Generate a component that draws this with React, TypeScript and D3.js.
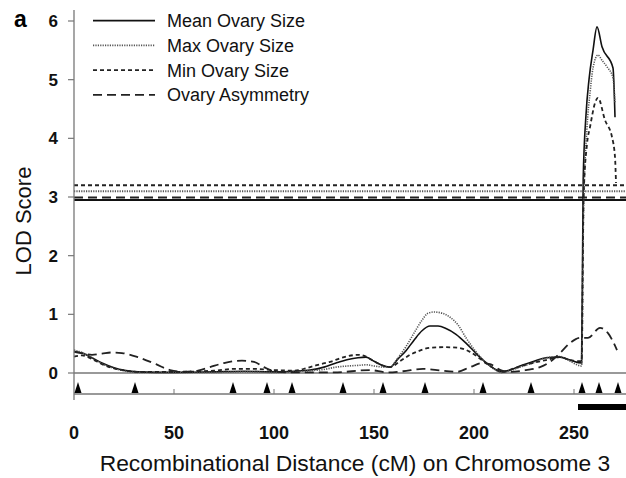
import React from "react";
import * as d3 from "d3";

// ---- data (cM, LOD) ----
const meanOvary: [number, number][] = [
  [0, 0.37], [4, 0.34], [9, 0.26], [14, 0.17], [20, 0.09], [26, 0.04], [32, 0.02], [50, 0.01],
  [70, 0.02], [85, 0.03], [100, 0.02], [110, 0.03], [118, 0.05], [125, 0.1], [131, 0.17],
  [137, 0.23], [142, 0.26], [146, 0.27], [150, 0.2], [155, 0.12], [158, 0.1], [162, 0.24],
  [166, 0.38], [170, 0.56], [174, 0.72], [178, 0.8], [182, 0.8], [186, 0.76], [191, 0.66],
  [196, 0.51], [202, 0.3], [208, 0.12], [214, 0.02], [218, 0.05], [223, 0.12], [230, 0.2],
  [236, 0.26], [243, 0.27], [248, 0.22], [253.8, 0.17], [254.6, 3.3], [256, 4.4], [257.5, 5.0],
  [259.5, 5.5], [261.5, 5.9], [264, 5.56], [269.5, 5.2], [270.5, 4.36],
];
const maxOvary: [number, number][] = [
  [0, 0.39], [4, 0.35], [9, 0.26], [14, 0.16], [20, 0.08], [26, 0.03], [32, 0.01], [50, 0.01],
  [70, 0.01], [85, 0.02], [100, 0.01], [110, 0.02], [118, 0.04], [125, 0.06], [131, 0.1],
  [137, 0.12], [142, 0.13], [146, 0.14], [150, 0.12], [155, 0.1], [158, 0.1], [162, 0.26],
  [166, 0.45], [170, 0.68], [174, 0.9], [177, 1.02], [180, 1.04], [184, 1.02], [188, 0.95],
  [192, 0.82], [196, 0.6], [202, 0.32], [208, 0.12], [214, 0.01], [218, 0.04], [223, 0.1],
  [230, 0.18], [236, 0.26], [243, 0.28], [248, 0.2], [253.8, 0.12], [254.8, 2.8], [256.5, 4.19],
  [258, 4.77], [259.5, 5.2], [262, 5.42], [264, 5.33], [266.5, 5.22], [269.5, 5.03], [270.5, 4.6],
];
const minOvary: [number, number][] = [
  [0, 0.28], [4, 0.3], [9, 0.24], [14, 0.15], [20, 0.08], [26, 0.04], [32, 0.02], [50, 0.02],
  [70, 0.04], [80, 0.07], [90, 0.07], [100, 0.05], [110, 0.04], [116, 0.08], [122, 0.14],
  [128, 0.19], [135, 0.27], [142, 0.31], [146, 0.28], [150, 0.2], [155, 0.12], [158, 0.1],
  [163, 0.2], [168, 0.31], [172, 0.37], [178, 0.43], [185, 0.44], [192, 0.43], [198, 0.36],
  [204, 0.22], [210, 0.08], [214, 0.02], [220, 0.08], [228, 0.16], [236, 0.22], [243, 0.27],
  [248, 0.22], [253.8, 0.2], [254.8, 3.0], [256.5, 3.9], [258, 4.19], [260.5, 4.6], [262, 4.69],
  [265.5, 4.31], [269, 4.02], [270.5, 3.68], [271, 3.24],
];
const asymmetry: [number, number][] = [
  [0, 0.36], [5, 0.33], [9, 0.31], [14, 0.33], [19, 0.35], [24, 0.34], [32, 0.27], [41, 0.15],
  [48, 0.05], [55, 0.02], [62, 0.04], [68, 0.1], [75, 0.17], [84, 0.21], [90, 0.19], [95, 0.1],
  [100, 0.03], [108, 0.01], [130, 0.01], [148, 0.05], [156.5, 0.01], [164.5, 0.03],
  [174.5, 0.07], [181.5, 0.05], [191.5, 0.02], [198, 0.1], [204.5, 0.17], [208, 0.15],
  [214, 0.04], [218, 0.02], [226, 0.05], [233, 0.1], [238, 0.19], [243, 0.34], [248, 0.51],
  [253, 0.6], [257, 0.6], [263, 0.77], [267, 0.68], [271.5, 0.39],
];

const thresholds = [
  { name: "Min Ovary Size", value: 3.2 },
  { name: "Max Ovary Size", value: 3.1 },
  { name: "Ovary Asymmetry", value: 2.99 },
  { name: "Mean Ovary Size", value: 2.95 },
];

const markers = [2, 30.5, 79.5, 96.5, 109, 134.5, 154.5, 175.5, 204.5, 228.5, 254, 262.5, 272];
const qtlInterval = [252, 276];
const xTicks = [0, 50, 100, 150, 200, 250];
const yTicks = [0, 1, 2, 3, 4, 5, 6];

const legendItems = ["Mean Ovary Size", "Max Ovary Size", "Min Ovary Size", "Ovary Asymmetry"];

const styles: Record<string, { dash: string; color: string; width: number }> = {
  "Mean Ovary Size": { dash: "none", color: "#111", width: 1.6 },
  "Max Ovary Size": { dash: "1.2,1.2", color: "#555", width: 1.6 },
  "Min Ovary Size": { dash: "4,3", color: "#222", width: 1.8 },
  "Ovary Asymmetry": { dash: "9,5", color: "#222", width: 1.8 },
};

const seriesData: Record<string, [number, number][]> = {
  "Mean Ovary Size": meanOvary,
  "Max Ovary Size": maxOvary,
  "Min Ovary Size": minOvary,
  "Ovary Asymmetry": asymmetry,
};

export default function App() {
  const W = 626, H = 478;
  const x = d3.scaleLinear().domain([0, 276]).range([74, 626]);
  const y = d3.scaleLinear().domain([0, 6]).range([373, 21]);
  const line = d3
    .line<[number, number]>()
    .x((d) => x(d[0]))
    .y((d) => y(d[1]))
    .curve(d3.curveMonotoneX);

  const font = "'Liberation Sans', Arial, sans-serif";
  const axisX = x(0);
  const baseY = 394;

  return (
    <svg width={W} height={H} style={{ position: "absolute", left: 0, top: 0, background: "#fff" }} fontFamily={font}>
      <rect x={0} y={0} width={W} height={H} fill="#fff" />
      {thresholds.map((t) => (
        <line key={t.name} x1={axisX} x2={626} y1={y(t.value)} y2={y(t.value)}
          stroke={styles[t.name].color} strokeWidth={2} strokeDasharray={styles[t.name].dash} />
      ))}
      <line x1={axisX} x2={626} y1={y(0)} y2={y(0)} stroke="#777" strokeWidth={1.3} />
      {legendItems.map((k) => (
        <path key={k} d={line(seriesData[k]) || ""} fill="none" stroke={styles[k].color}
          strokeWidth={styles[k].width} strokeDasharray={styles[k].dash} />
      ))}
      <line x1={axisX} x2={axisX} y1={10} y2={400} stroke="#777" strokeWidth={1.3} />
      {yTicks.map((t) => (
        <g key={t}>
          <line x1={axisX - 6} x2={axisX} y1={y(t)} y2={y(t)} stroke="#777" strokeWidth={1.2} />
          <text x={58} y={y(t)} dy="0.35em" textAnchor="end" fontSize={17} fontWeight="bold" fill="#111">{t}</text>
        </g>
      ))}
      <line x1={axisX} x2={626} y1={baseY} y2={baseY} stroke="#777" strokeWidth={1.3} />
      {xTicks.filter((t) => t > 0).map((t) => (
        <line key={t} x1={x(t)} x2={x(t)} y1={baseY - 5} y2={baseY} stroke="#777" strokeWidth={1} />
      ))}
      {markers.map((m, i) => (
        <path key={i} d={`M${x(m) - 3.5},${baseY - 1} L${x(m)},${baseY - 12} L${x(m) + 3.5},${baseY - 1} Z`} fill="#000" />
      ))}
      <rect x={x(qtlInterval[0])} y={404} width={x(qtlInterval[1]) - x(qtlInterval[0])} height={6} fill="#000" />
      {xTicks.map((t) => (
        <text key={t} x={x(t)} y={439} textAnchor="middle" fontSize={18} fontWeight="bold" fill="#111">{t}</text>
      ))}
      <text x={355} y={471} textAnchor="middle" fontSize={22.8} fill="#111">Recombinational Distance (cM) on Chromosome 3</text>
      <text transform="translate(31,221) rotate(-90)" textAnchor="middle" fontSize={22} fill="#111">LOD Score</text>
      <text x={14} y={27} fontSize={23} fontWeight="bold" fill="#000">a</text>
      {legendItems.map((k, i) => {
        const ly = 20.7 + i * 24.7;
        return (
          <g key={k}>
            <line x1={93} x2={155} y1={ly} y2={ly} stroke={styles[k].color} strokeWidth={1.8} strokeDasharray={styles[k].dash} />
            <text x={167} y={ly + 6.5} fontSize={18} fill="#111">{k}</text>
          </g>
        );
      })}
    </svg>
  );
}
